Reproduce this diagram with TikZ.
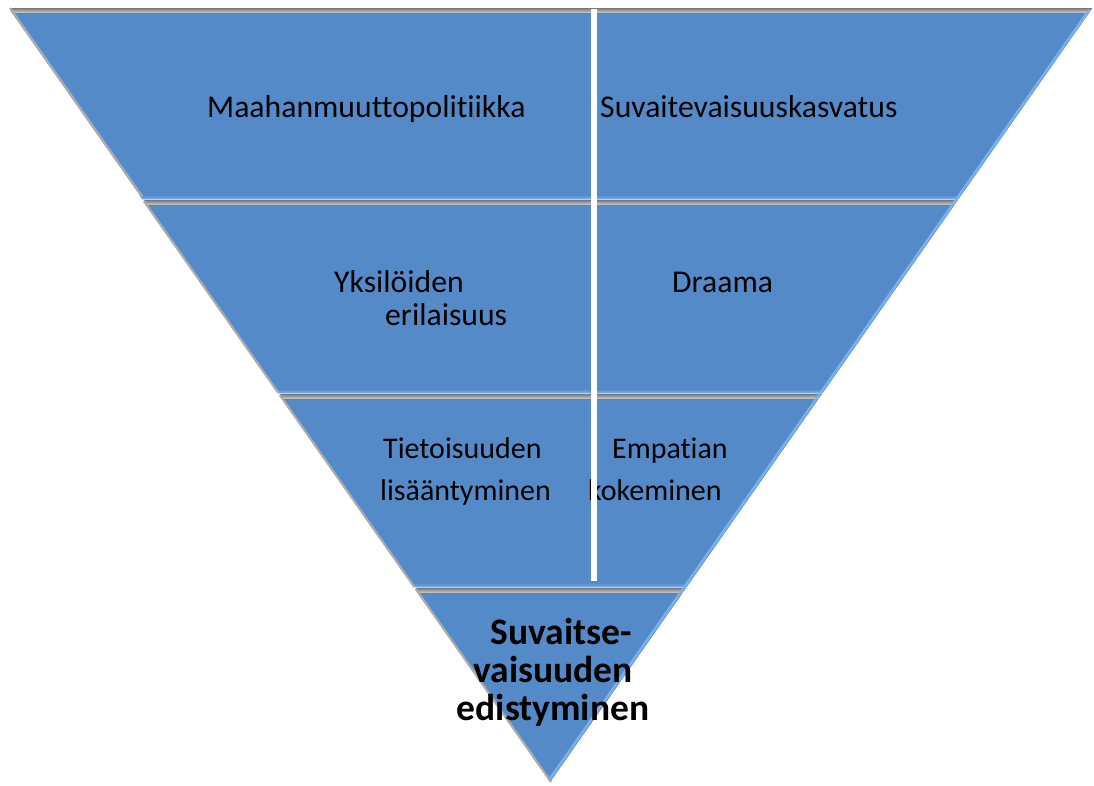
\documentclass[tikz,border=0pt]{standalone}
\usepackage{fontspec}
\setmainfont{Carlito}[Ligatures={NoCommon}]
\definecolor{bandblue}{RGB}{85,138,201}
\definecolor{hiblue}{RGB}{125,175,240}
\definecolor{bevgray}{RGB}{120,120,120}
\tikzset{
  band/.style={fill=bandblue, draw=none},
  topbevel/.style={top color=bevgray, bottom color=gray!35, draw=none},
  lowhi/.style={top color=bandblue, bottom color=hiblue, draw=none},
  leftedge/.style={draw=gray!65, line width=2.2pt},
  rightedge/.style={draw=white, line width=1.6pt},
  rightinner/.style={draw=hiblue, line width=2.5pt},
  lbl/.style={font=\fontsize{31.7}{38}\selectfont, text=black, inner sep=0pt, anchor=base west},
  lbls/.style={font=\fontsize{30}{36}\selectfont, text=black, inner sep=0pt, anchor=base west},
  lblb/.style={font=\fontsize{37.5}{44}\selectfont\bfseries, text=black, inner sep=0pt, anchor=base},
}
\begin{document}
\begin{tikzpicture}[x=1pt,y=-1pt]
\useasboundingbox (0,0) rectangle (1094,785);
% band 1: 10..199
\fill[band] (10,10) -- (1092,10) -- (959.55,199) -- (142.45,199) -- cycle;
\fill[lowhi] (139.6,195) -- (962.4,195) -- (959.55,199) -- (142.45,199) -- cycle;
\fill[topbevel] (10,8) -- (1092,8) -- (1089.2,13) -- (12.8,13) -- cycle;
% band 2: 201..393
\fill[band] (143.85,201) -- (958.15,201) -- (823.59,393) -- (278.41,393) -- cycle;
\fill[lowhi] (275.6,389) -- (826.4,389) -- (823.59,393) -- (278.41,393) -- cycle;
\fill[topbevel] (143.85,200) -- (958.15,200) -- (954.6,205) -- (147.4,205) -- cycle;
% band 3: 395..587
\fill[band] (279.81,395) -- (822.19,395) -- (687.64,587) -- (414.36,587) -- cycle;
\fill[lowhi] (411.5,583) -- (690.5,583) -- (687.64,587) -- (414.36,587) -- cycle;
\fill[topbevel] (279.81,394) -- (822.19,394) -- (818.7,399) -- (283.3,399) -- cycle;
% band 4: 589..782
\fill[band] (415.76,589) -- (686.24,589) -- (551,782) -- cycle;
\fill[topbevel] (415.76,588) -- (686.24,588) -- (682.7,593) -- (419.3,593) -- cycle;
% edges
\draw[leftedge] (10,8) -- (142.45,197);
\draw[leftedge] (143.85,201) -- (278.41,393);
\draw[leftedge] (279.81,395) -- (414.36,587);
\draw[leftedge] (415.76,589) -- (551,782);
\draw[rightinner] (1089,10) -- (549,780);
\draw[rightedge] (1093,9) -- (552,781);
% labels
\node[lbl] (maa) at (207,117) {Maahanmuuttopolitiikka};
\node[lbl] (suv) at (600,117) {Suvaitevaisuuskasvatus};
\node[lbl] (yks) at (334,292) {Yksilöiden};
\node[lbl] (eri) at (385,325) {erilaisuus};
\node[lbl] (dra) at (672,292) {Draama};
\node[lbls] (tie) at (383,458) {Tietoisuuden};
\node[lbls] (lis) at (380,500) {lisääntyminen};
\node[lbls] (emp) at (612,458) {Empatian};
\node[lbls] (kok) at (588,500) {kokeminen};
\node[lblb] (s1) at (561,644) {Suvaitse-};
\node[lblb] (s2) at (553,682) {vaisuuden};
\node[lblb] (s3) at (553,720) {edistyminen};
% white divider
\fill[white] (591,9) rectangle (597,581);
\end{tikzpicture}
\end{document}
